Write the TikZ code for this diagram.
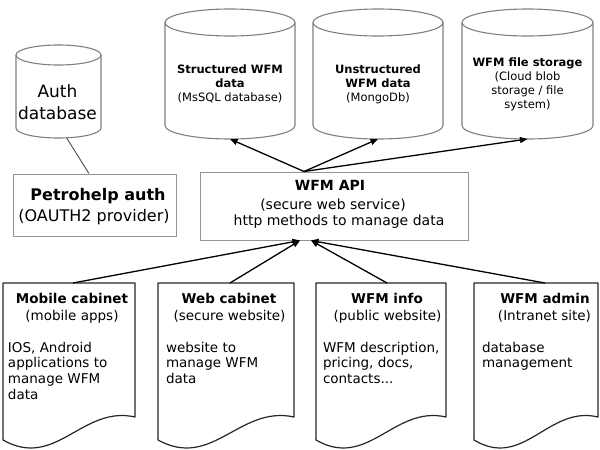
\documentclass[tikz,border=0pt]{standalone}
\usepackage{fontspec}
\setmainfont{DejaVu Sans}
\usetikzlibrary{arrows.meta}
\newcommand\fcyl{\fontsize{11.5}{14}\selectfont}
\newcommand\fdoc{\fontsize{13.5}{15.7}\selectfont}
\newcommand\fapi{\fontsize{14}{17}\selectfont}
\newcommand\fbigA{\fontsize{17}{20}\selectfont}
\newcommand\fbigB{\fontsize{16}{19}\selectfont}
\tikzset{
  cylline/.style={draw=black!50, line width=1.1pt},
  boxline/.style={draw=black!42, line width=1pt, inner sep=0pt},
  docline/.style={draw=black!85, line width=1.2pt, line join=round},
  region/.style={inner sep=0pt, outer sep=0pt},
  t/.style={anchor=base, inner sep=0pt, outer sep=0pt},
  tl/.style={anchor=base west, inner sep=0pt, outer sep=0pt},
  arr/.style={-{Triangle[length=7.5pt,width=6pt]}, line width=1.3pt, draw=black},
  link/.style={draw=black!70, line width=0.9pt}
}
\begin{document}
\begin{tikzpicture}[x=1pt,y=-1pt]
\useasboundingbox (0,0) rectangle (600,450);
\fill[white] (0,0) rectangle (600,450);

% ---- Auth database cylinder
\node[region, minimum width=85pt, minimum height=93pt] (auth) at (58.5,91.5) {};
\draw[cylline] (58.5,55) ellipse [x radius=42.5pt, y radius=10pt];
\draw[cylline] (16,55) -- (16,128) arc[start angle=180, end angle=360, x radius=42.5pt, y radius=10pt] -- (101,55);
\node[t, font=\fbigA] (authA) at (57.5,97) {Auth};
\node[t, font=\fbigA] (authB) at (57.5,119) {database};

% ---- Structured WFM data
\node[region, minimum width=130pt, minimum height=130pt] (sdb) at (230,74) {};
\draw[cylline] (230,22.5) ellipse [x radius=65pt, y radius=13.5pt];
\draw[cylline] (165,22.5) -- (165,125.5) arc[start angle=180, end angle=360, x radius=65pt, y radius=13.5pt] -- (295,22.5);
\node[t, font=\fcyl\bfseries] (sdbA) at (230,73) {Structured WFM};
\node[t, font=\fcyl\bfseries] (sdbB) at (230,87) {data};
\node[t, font=\fcyl] (sdbC) at (230,101) {(MsSQL database)};

% ---- Unstructured WFM data
\node[region, minimum width=130pt, minimum height=130pt] (udb) at (378,74) {};
\draw[cylline] (378,22.5) ellipse [x radius=65pt, y radius=13.5pt];
\draw[cylline] (313,22.5) -- (313,125.5) arc[start angle=180, end angle=360, x radius=65pt, y radius=13.5pt] -- (443,22.5);
\node[t, font=\fcyl\bfseries] (udbA) at (378,73) {Unstructured};
\node[t, font=\fcyl\bfseries] (udbB) at (378,87) {WFM data};
\node[t, font=\fcyl] (udbC) at (378,101) {(MongoDb)};

% ---- WFM file storage
\node[region, minimum width=131pt, minimum height=130pt] (fdb) at (527.5,74) {};
\draw[cylline] (527.5,22.5) ellipse [x radius=65.5pt, y radius=13.5pt];
\draw[cylline] (462,22.5) -- (462,125.5) arc[start angle=180, end angle=360, x radius=65.5pt, y radius=13.5pt] -- (593,22.5);
\node[t, font=\fcyl\bfseries] (fdbA) at (527.5,66) {WFM file storage};
\node[t, font=\fcyl] (fdbB) at (527.5,80) {(Cloud blob};
\node[t, font=\fcyl] (fdbC) at (527.5,94) {storage / file};
\node[t, font=\fcyl] (fdbD) at (527.5,108) {system)};

% ---- Petrohelp auth
\node[boxline, minimum width=163pt, minimum height=62pt] (ph) at (94.5,205) {};
\node[t, font=\fbigB\bfseries] (phA) at (98,200) {Petrohelp auth};
\node[t, font=\fbigB] (phB) at (94,221) {(OAUTH2 provider)};

% ---- WFM API
\node[boxline, minimum width=268pt, minimum height=68pt] (api) at (334,206) {};
\node[t, font=\fapi\bfseries] (apiA) at (330,190) {WFM API};
\node[t, font=\fapi] (apiB) at (333,209) {(secure web service)};
\node[t, font=\fapi] (apiC) at (339,225) {http methods to manage data};

% ---- Documents
\node[region, minimum width=132pt, minimum height=134pt] (mob) at (69,350) {};
\draw[docline] (3,283) -- (135,283) -- (135,417) .. controls (82.2,405) and (55.8,470) .. (3,440) -- cycle;
\node[t, font=\fdoc\bfseries] (mobA) at (72,303) {Mobile cabinet};
\node[t, font=\fdoc] (mobB) at (72,320) {(mobile apps)};
\node[tl, font=\fdoc] (mobC) at (8,352) {IOS, Android};
\node[tl, font=\fdoc] (mobD) at (8,367.7) {applications to};
\node[tl, font=\fdoc] (mobE) at (8,383.4) {manage WFM};
\node[tl, font=\fdoc] (mobF) at (8,399.1) {data};

\node[region, minimum width=136pt, minimum height=134pt] (web) at (226,350) {};
\draw[docline] (158,283) -- (294,283) -- (294,417) .. controls (239.6,405) and (212.4,470) .. (158,440) -- cycle;
\node[t, font=\fdoc\bfseries] (webA) at (229,303) {Web cabinet};
\node[t, font=\fdoc] (webB) at (229.5,320) {(secure website)};
\node[tl, font=\fdoc] (webC) at (166,352) {website to};
\node[tl, font=\fdoc] (webD) at (166,367.7) {manage WFM};
\node[tl, font=\fdoc] (webE) at (166,383.4) {data};

\node[region, minimum width=130pt, minimum height=134pt] (info) at (381,350) {};
\draw[docline] (316,283) -- (446,283) -- (446,417) .. controls (394,405) and (368,470) .. (316,440) -- cycle;
\node[t, font=\fdoc\bfseries] (infoA) at (387,303) {WFM info};
\node[t, font=\fdoc] (infoB) at (387.5,320) {(public website)};
\node[tl, font=\fdoc] (infoC) at (323,352) {WFM description,};
\node[tl, font=\fdoc] (infoD) at (323,367.7) {pricing, docs,};
\node[tl, font=\fdoc] (infoE) at (323,383.4) {contacts...};

\node[region, minimum width=124pt, minimum height=134pt] (adm) at (536,350) {};
\draw[docline] (474,283) -- (598,283) -- (598,417) .. controls (548.4,405) and (523.6,470) .. (474,440) -- cycle;
\node[t, font=\fdoc\bfseries] (admA) at (545,303) {WFM admin};
\node[t, font=\fdoc] (admB) at (544.5,320) {(Intranet site)};
\node[tl, font=\fdoc] (admC) at (482,352) {database};
\node[tl, font=\fdoc] (admD) at (482,367.7) {management};

% ---- Connectors
\draw[link] (auth.-80) -- (ph.100);
\draw[arr] ([xshift=-30pt]api.north) -- (sdb.south);
\draw[arr] ([xshift=-30pt]api.north) -- (udb.south);
\draw[arr] ([xshift=-30pt]api.north) -- (fdb.south);
\draw[arr] ([xshift=4pt]mob.north) -- ([xshift=-34pt]api.south);
\draw[arr] ([xshift=4pt]web.north) -- ([xshift=-34pt]api.south);
\draw[arr] ([xshift=6pt]info.north) -- ([xshift=-23pt]api.south);
\draw[arr] ([xshift=9pt]adm.north) -- ([xshift=-23pt]api.south);
\end{tikzpicture}
\end{document}
